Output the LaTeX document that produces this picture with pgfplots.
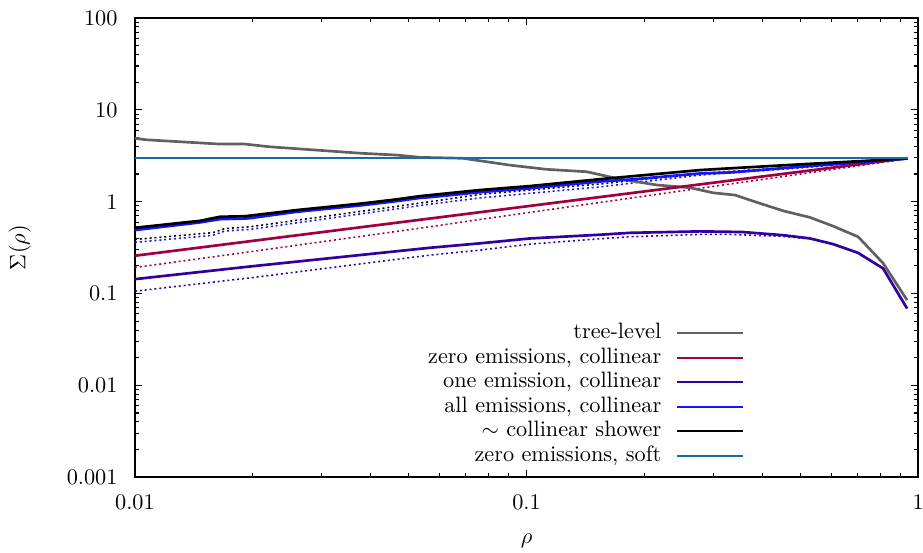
\documentclass[border=0pt]{standalone}
\usepackage{pgfplots}
\pgfplotsset{compat=1.18}
\definecolor{treegray}{RGB}{96,96,96}
\definecolor{zcoll}{RGB}{160,0,64}
\definecolor{onecoll}{RGB}{51,0,160}
\definecolor{allcoll}{RGB}{20,20,255}
\definecolor{softc}{RGB}{20,110,160}
\begin{document}
\begin{tikzpicture}
\begin{axis}[
  name=ax,
  scale only axis,
  width=351.7pt, height=206.2pt,
  xmode=log, ymode=log,
  xmin=0.01, xmax=1, ymin=0.001, ymax=100,
  xtick={0.01,0.1,1}, xticklabels={0.01,0.1,1},
  ytick={0.001,0.01,0.1,1,10,100}, yticklabels={0.001,0.01,0.1,1,10,100},
  minor xtick={0.02,0.03,0.04,0.05,0.06,0.07,0.08,0.09,0.2,0.3,0.4,0.5,0.6,0.7,0.8,0.9},
  minor ytick={0.002,0.003,0.004,0.005,0.006,0.007,0.008,0.009,0.02,0.03,0.04,0.05,0.06,0.07,0.08,0.09,0.2,0.3,0.4,0.5,0.6,0.7,0.8,0.9,2,3,4,5,6,7,8,9,20,30,40,50,60,70,80,90},
  tick align=inside,
  major tick length=3.2pt, minor tick length=1.8pt,
  every tick/.style={black, line width=0.5pt},
  axis line style={line width=0.8pt},
  xticklabel style={yshift=-4.5pt},
  yticklabel style={xshift=-4.3pt},
  xlabel={$\rho$}, ylabel={$\Sigma(\rho)$},
  xlabel style={at={(axis description cs:0.5,-0.1397)}, anchor=center},
  ylabel style={at={(axis description cs:-0.147,0.5)}, anchor=center},
  legend plot pos=right,
  legend cell align=right,
  legend image code/.code={\draw[#1, line width=0.9pt] (0pt,0pt) -- (29.6pt,0pt);},
  legend style={draw=none, fill=none, at={(axis description cs:0.7778,0.025)}, anchor=south east,
    inner sep=0pt, outer sep=0pt, row sep=2.1pt, column sep=6.7pt,
    nodes={inner sep=0pt, text height=6.9pt, text depth=2pt}},
  every axis plot/.append style={line width=1.2pt, line join=round},
  dots/.style={line width=0.7pt, dash pattern=on 0.9pt off 1.3pt},
]
% dotted companions
\addplot[zcoll, dots, forget plot] coordinates {(0.01,0.192) (0.01967,0.285) (0.0567,0.533) (0.0761,0.641) (0.2775,1.40) (0.94,2.93)};
\addplot[onecoll, dots, forget plot] coordinates {(0.01,0.106) (0.01967,0.148) (0.0567,0.262) (0.0761,0.297) (0.102,0.345) (0.1542,0.395) (0.1838,0.415) (0.2775,0.44) (0.331,0.44) (0.3575,0.435) (0.452,0.418) (0.530,0.395) (0.607,0.345) (0.703,0.277) (0.814,0.1876) (0.937,0.0689)};
\addplot[allcoll, dots, forget plot] coordinates {(0.01,0.361) (0.0158,0.43) (0.0170,0.48) (0.01967,0.499) (0.0567,0.94) (0.0761,1.10) (0.1542,1.45) (0.2775,1.95) (0.4995,2.33) (0.94,2.93)};
\addplot[black, dots, forget plot] coordinates {(0.01,0.388) (0.0158,0.46) (0.0170,0.51) (0.01967,0.533) (0.0567,1.00) (0.0761,1.20) (0.1542,1.56) (0.2775,2.03) (0.4995,2.40) (0.94,2.95)};
% main curves
\addplot[treegray] coordinates {(0.01,4.90) (0.0107,4.72) (0.01649,4.24) (0.01910,4.24) (0.02212,3.96) (0.02746,3.71) (0.03148,3.56) (0.03823,3.36) (0.04661,3.22) (0.05346,3.04) (0.06882,2.97) (0.09075,2.50) (0.1126,2.25) (0.1425,2.12) (0.1700,1.79) (0.2151,1.52) (0.2616,1.42) (0.2995,1.25) (0.3409,1.18) (0.3949,0.958) (0.4521,0.796) (0.5299,0.674) (0.6067,0.542) (0.7028,0.415) (0.8140,0.214) (0.9373,0.0848)};
\addlegendentry{tree-level}
\addplot[zcoll] coordinates {(0.01,0.258) (0.1,0.89) (0.94,2.98)};
\addlegendentry{zero emissions, collinear}
\addplot[onecoll] coordinates {(0.01,0.1435) (0.01967,0.197) (0.0567,0.315) (0.0761,0.352) (0.102,0.398) (0.1542,0.437) (0.1838,0.458) (0.2775,0.475) (0.331,0.470) (0.3575,0.467) (0.452,0.432) (0.530,0.398) (0.607,0.345) (0.703,0.277) (0.814,0.1876) (0.937,0.0689)};
\addlegendentry{one emission, collinear}
\addplot[allcoll] coordinates {(0.01,0.491) (0.01466,0.595) (0.01649,0.646) (0.01910,0.655) (0.01967,0.662) (0.02588,0.776) (0.0383,0.918) (0.04661,1.015) (0.05346,1.10) (0.0567,1.12) (0.0761,1.27) (0.102,1.40) (0.1542,1.66) (0.1838,1.74) (0.2775,2.03) (0.331,2.08) (0.4995,2.40) (0.741,2.72) (0.94,2.95)};
\addlegendentry{all emissions, collinear}
\addplot[black] coordinates {(0.01,0.520) (0.01466,0.619) (0.01649,0.685) (0.01910,0.695) (0.02588,0.81) (0.0383,0.96) (0.04661,1.06) (0.05346,1.15) (0.0761,1.34) (0.102,1.48) (0.1542,1.76) (0.2775,2.21) (0.331,2.31) (0.4995,2.55) (0.741,2.79) (0.94,2.97)};
\addlegendentry{$\sim$ collinear shower}
\addplot[softc] coordinates {(0.01,3.0) (0.94,3.0)};
\addlegendentry{zero emissions, soft}
\end{axis}
\pgfresetboundingbox
\path[use as bounding box] ([shift={(-60.6pt,-33.7pt)}]ax.south west) rectangle ([shift={(2.2pt,8.1pt)}]ax.north east);
\end{tikzpicture}
\end{document}
